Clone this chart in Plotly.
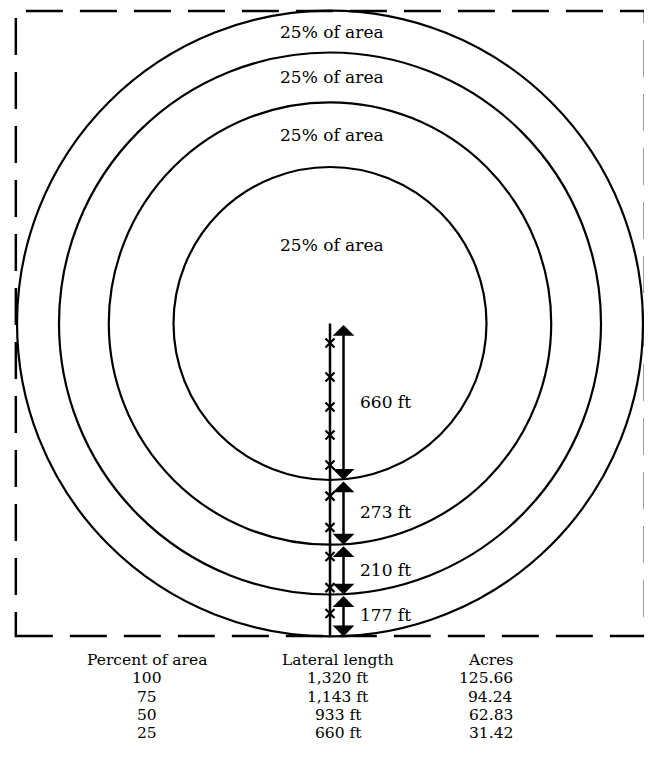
import plotly.graph_objects as go

# ---- data ----
ring_radii_ft = [660, 933, 1143, 1320]
segment_labels = ["660 ft", "273 ft", "210 ft", "177 ft"]
ring_labels = ["25% of area", "25% of area", "25% of area", "25% of area"]
cross_positions_ft = [82, 226, 352, 470, 597, 728, 860, 983, 1114, 1223]

table_headers = ["Percent of area", "Lateral length", "Acres"]
percent_of_area = ["100", "75", "50", "25"]
lateral_length = ["1,320 ft", "1,143 ft", "933 ft", "660 ft"]
acres = ["125.66", "94.24", "62.83", "31.42"]

# ---- geometry / style ----
W, H = 652, 762
OFF = 8             # page body margin
k = 0.2371          # px per ft
cx_px, cy_px = 330 - OFF, 323.5 - OFF
x_range = [-cx_px / k, (W - cx_px) / k]
y_range = [-(H - cy_px) / k, cy_px / k]
FONT = "DejaVu Serif"
FS = 17
FS_TABLE = 15.5
arrow_x = 57

fig = go.Figure()

# dashed square
fig.add_shape(type="rect", x0=-1325, x1=1328, y0=-1318, y1=1318,
              line=dict(color="black", width=2.5, dash="37px,17px"))

# circles
for r in ring_radii_ft:
    fig.add_shape(type="circle", x0=-r, x1=r, y0=-r, y1=r,
                  line=dict(color="black", width=2.2))

# pivot lateral
fig.add_trace(go.Scatter(x=[0, 0], y=[0, -ring_radii_ft[-1]], mode="lines",
                         line=dict(color="black", width=2.5), hoverinfo="skip"))
# sprinkler crosses
fig.add_trace(go.Scatter(x=[0] * len(cross_positions_ft),
                         y=[-p for p in cross_positions_ft], mode="markers",
                         marker=dict(symbol="x-thin", size=9,
                                     line=dict(color="black", width=2.2)),
                         hoverinfo="skip"))

# arrows + segment labels
inner = 0
for r, lab in zip(ring_radii_ft, segment_labels):
    fig.add_annotation(x=arrow_x, y=-r, ax=arrow_x, ay=-inner,
                       xref="x", yref="y", axref="x", ayref="y",
                       text="", showarrow=True, arrowside="end+start",
                       arrowhead=1, startarrowhead=1, arrowsize=1.45,
                       startarrowsize=1.45, arrowwidth=2.5,
                       arrowcolor="black", standoff=0, startstandoff=0)
    fig.add_annotation(x=(358 - 330) / k, y=-(inner + r) / 2,
                       xref="x", yref="y", text=lab, showarrow=False,
                       xanchor="left", yanchor="middle",
                       font=dict(family=FONT, size=FS, color="black"))
    inner = r

# ring labels
prev = 0
for r, lab in zip(ring_radii_ft, ring_labels):
    ymid = r / 2 if prev == 0 else (prev + r) / 2
    fig.add_annotation(x=(332 - 330) / k, y=ymid, xref="x", yref="y",
                       text=lab, showarrow=False,
                       font=dict(family=FONT, size=FS, color="black"))
    prev = r

# table as text annotations (screen px -> figure px: minus OFF)
row_step = 18.2
row_center = 696.5
row_y = [row_center + (i - 2) * row_step for i in range(5)]
cols = [[table_headers[0]] + percent_of_area,
        [table_headers[1]] + lateral_length,
        [table_headers[2]] + acres]
col_x = [147, 338, 514]
col_anchor = ["center", "center", "right"]
for c, vals in enumerate(cols):
    for i, v in enumerate(vals):
        fig.add_annotation(x=(col_x[c] - OFF) / W, y=1 - (row_y[i] - OFF) / H,
                           xref="paper", yref="paper", text=v, showarrow=False,
                           xanchor=col_anchor[c], yanchor="middle",
                           borderpad=0,
                           font=dict(family=FONT, size=FS_TABLE, color="black"))

fig.update_layout(width=W, height=H, margin=dict(l=0, r=0, t=0, b=0),
                  paper_bgcolor="white", plot_bgcolor="white",
                  showlegend=False,
                  xaxis=dict(range=x_range, visible=False, fixedrange=True),
                  yaxis=dict(range=y_range, visible=False, fixedrange=True))

fig.write_html("out.html")
